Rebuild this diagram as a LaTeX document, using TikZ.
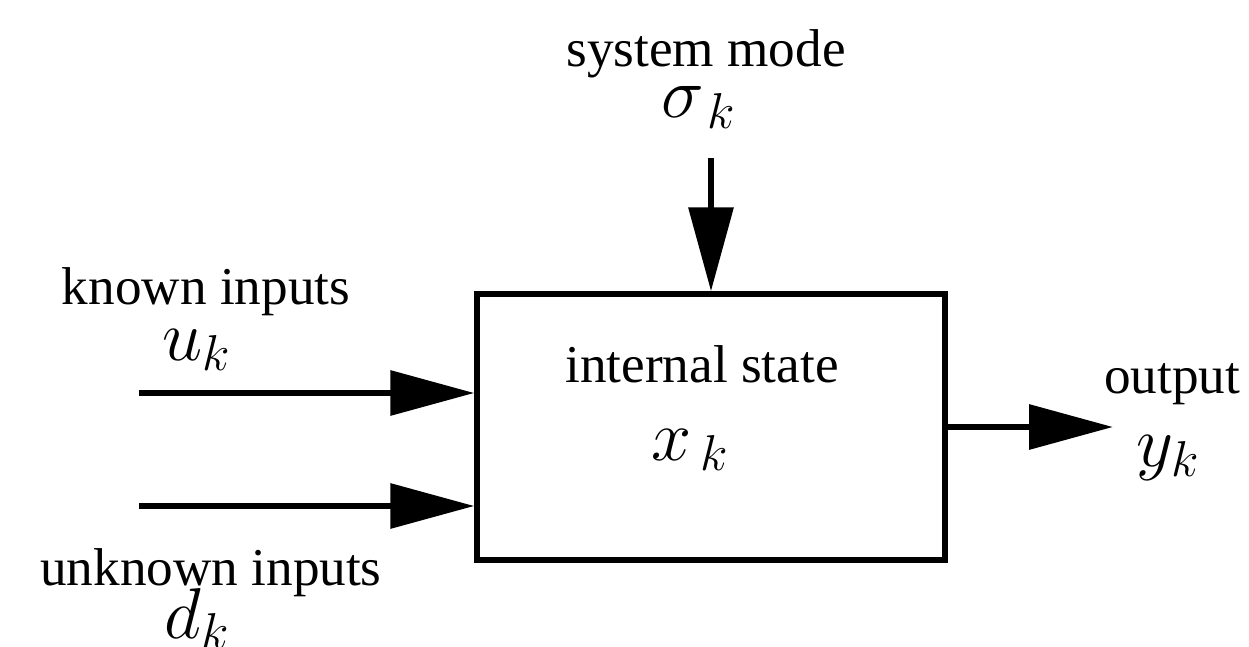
\RequirePackage{fix-cm}
\documentclass[tikz,border=0pt]{standalone}
\usepackage{fontspec}
\setmainfont{Liberation Serif}
\usetikzlibrary{arrows.meta}
\begin{document}
\begin{tikzpicture}[x=0.5pt,y=-0.5pt,
  lbl/.style={anchor=base,inner sep=0pt,font=\fontsize{26.6}{30}\selectfont},
  mth/.style={anchor=base,inner sep=0pt,font=\fontsize{36}{40}\selectfont},
  arr/.style={line width=3.2pt,-{Triangle[length=42pt,width=22pt]}},
  blk/.style={draw,line width=2.7pt,minimum width=234pt,minimum height=133pt,inner sep=0pt}]
\useasboundingbox (0,0) rectangle (1249,647);
\node[blk] (box) at (711,427) {};
\node[lbl] (sm) at (706,67) {system mode};
\node[mth] (sig) at (699,118) {$\sigma_{\mkern2mu k}$};
\node[lbl] (ki) at (206,305) {known inputs};
\node[mth] (uk) at (197,360) {$u_k$};
\node[lbl] (ui) at (211,585) {unknown inputs};
\node[mth] (dk) at (197,638) {$d_k$};
\node[lbl] (is) at (702,382) {internal state};
\node[mth] (xk) at (690,460) {$x_{\mkern3mu k}$};
\node[lbl] (out) at (1172,393) {output};
\node[mth] (yk) at (1168,466) {$y_k$};
\coordinate (tsrc) at (711,158);
\coordinate (usrc) at (139,393);
\coordinate (dsrc) at (139,506);
\coordinate (yend) at (1113,427);
\draw[arr] (tsrc) -- (box.north);
\draw[arr] (usrc) -- (usrc -| box.west);
\draw[arr] (dsrc) -- (dsrc -| box.west);
\draw[arr] (box.east) -- (yend);
\end{tikzpicture}
\end{document}
